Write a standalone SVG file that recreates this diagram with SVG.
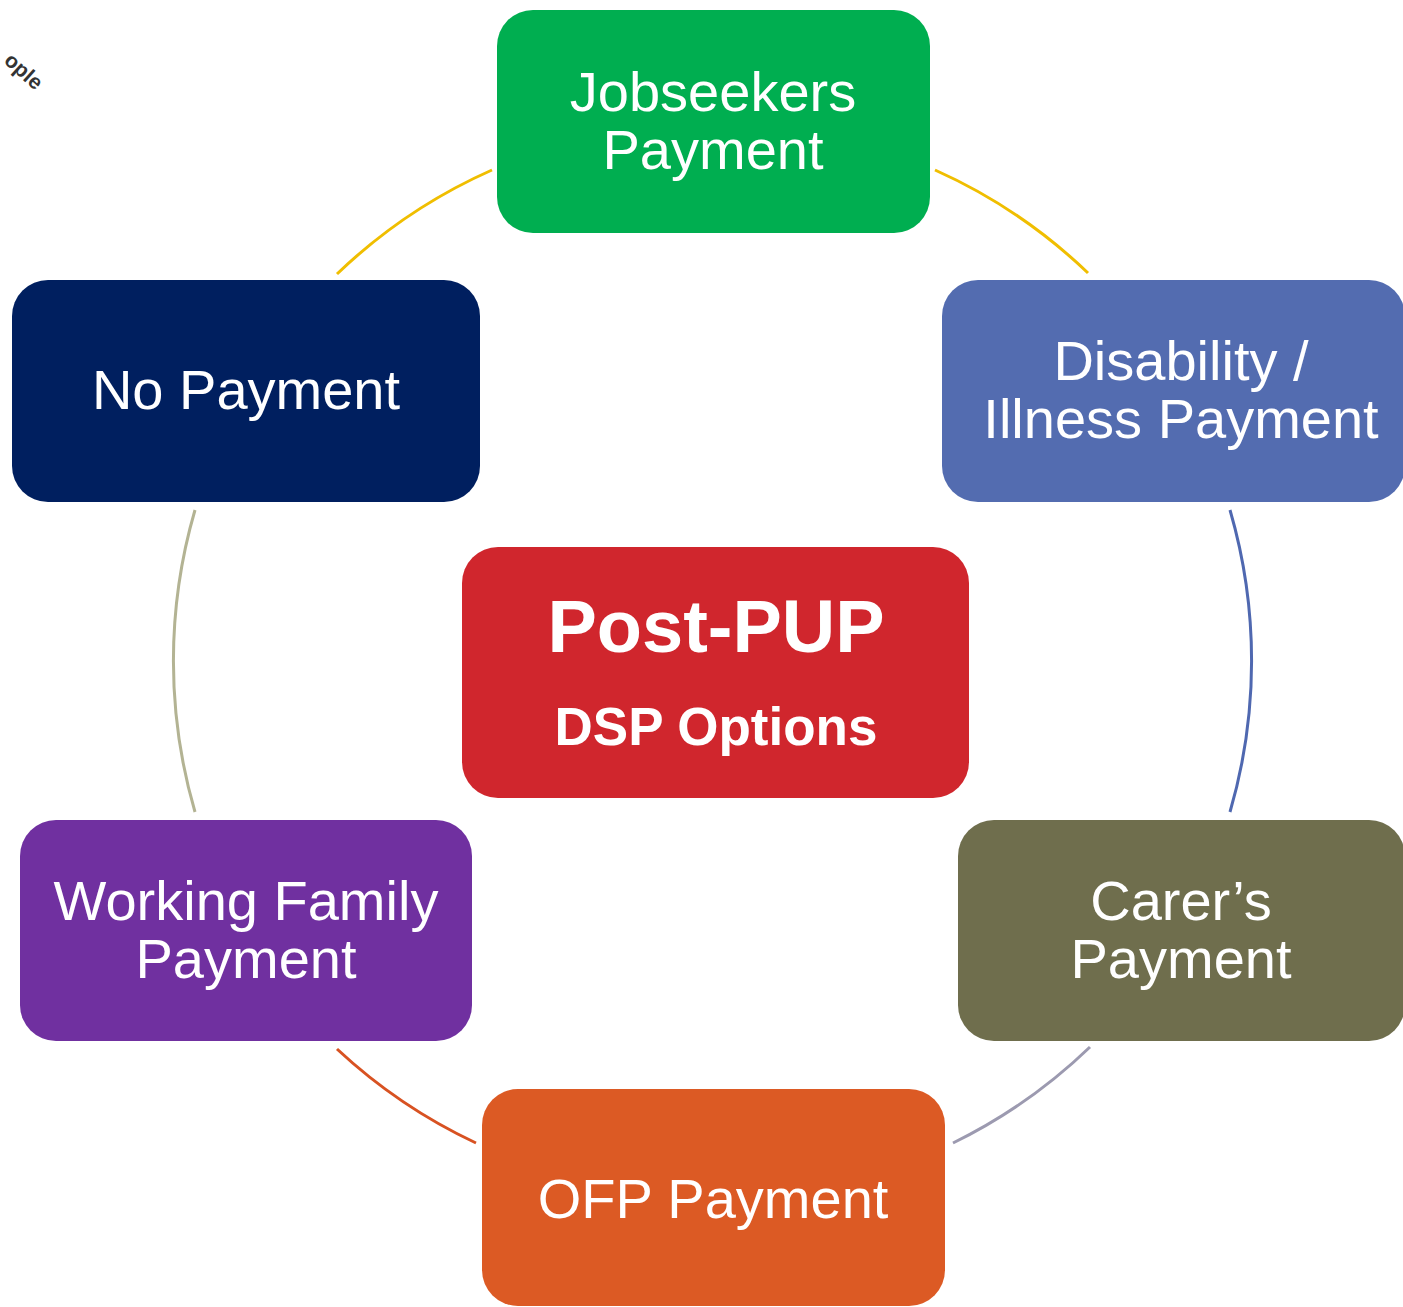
<svg xmlns="http://www.w3.org/2000/svg" width="1403" height="1307" viewBox="0 0 1403 1307">
<style>
.lbl{font-family:"Liberation Sans",Arial,sans-serif;fill:#fff;font-size:56px;text-anchor:middle}
.bold{font-weight:bold}
.arc{fill:none;stroke-width:3}
</style>
<rect width="1403" height="1307" fill="#fff"/>
<text x="0" y="0" transform="translate(3,62) rotate(42)" font-family="'Liberation Sans',Arial,sans-serif" font-weight="bold" font-size="21" fill="#333">ople</text>
<g id="connectors">
<path class="arc" stroke="#F0BE00" d="M337 274 A539 539 0 0 1 492 170"/>
<path class="arc" stroke="#F0BE00" d="M935 170 A539 539 0 0 1 1088 273"/>
<path class="arc" stroke="#4F68B0" d="M1230 510 A539 539 0 0 1 1230 812"/>
<path class="arc" stroke="#9C9AB0" d="M1090 1047 A539 539 0 0 1 953 1143"/>
<path class="arc" stroke="#D85222" d="M476 1143 A539 539 0 0 1 337 1049"/>
<path class="arc" stroke="#B3B393" d="M195 812 A539 539 0 0 1 195 510"/>
</g>
<g id="jobseekers"><rect x="497" y="10" width="433" height="223" rx="36" fill="#00AE50"/><text class="lbl" x="713" y="111">Jobseekers</text><text class="lbl" x="713" y="169">Payment</text></g>
<g id="disability"><rect x="942" y="280" width="463" height="222" rx="36" fill="#536CB0"/><text class="lbl" x="1181" y="380">Disability /</text><text class="lbl" x="1181" y="438">Illness Payment</text></g>
<g id="nopayment"><rect x="12" y="280" width="468" height="222" rx="36" fill="#001F5F"/><text class="lbl" x="246" y="409">No Payment</text></g>
<g id="postpup"><rect x="462" y="547" width="507" height="251" rx="36" fill="#D0262D"/><text class="lbl bold" x="716" y="652" style="font-size:74px">Post-PUP</text><text class="lbl bold" x="716" y="745" style="font-size:53px">DSP Options</text></g>
<g id="workingfamily"><rect x="20" y="820" width="452" height="221" rx="36" fill="#7030A0"/><text class="lbl" x="246" y="920">Working Family</text><text class="lbl" x="246" y="978">Payment</text></g>
<g id="carers"><rect x="958" y="820" width="447" height="221" rx="36" fill="#6F6E4D"/><text class="lbl" x="1181" y="920">Carer’s</text><text class="lbl" x="1181" y="978">Payment</text></g>
<g id="ofp"><rect x="482" y="1089" width="463" height="217" rx="36" fill="#DC5A24"/><text class="lbl" x="713" y="1218">OFP Payment</text></g>
</svg>
